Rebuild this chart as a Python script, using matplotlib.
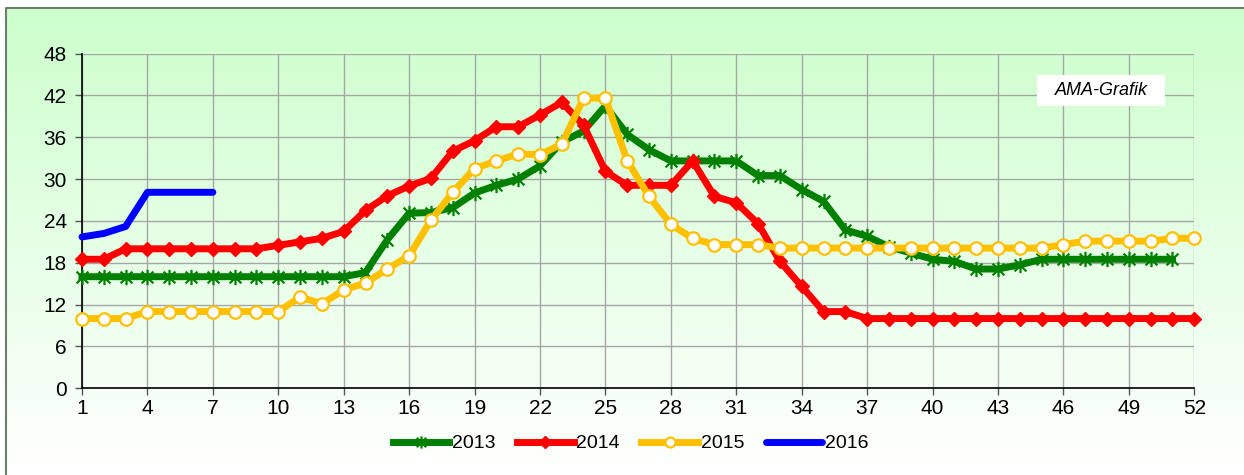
import numpy as np
import matplotlib
matplotlib.use("Agg")
import matplotlib.pyplot as plt
from matplotlib.path import Path
from matplotlib.patches import Rectangle

plt.rcParams['font.family'] = ['Liberation Sans', 'DejaVu Sans']

# ---- data ----
weeks = list(range(1, 53))
y2013 = [16, 16, 16, 16, 16, 16, 16, 16, 16, 16, 16, 16, 16, 16.6, 21.3, 25.1,
         25.2, 25.9, 28.0, 29.1, 30.0, 31.9, 35.3, 36.9, 40.5, 36.4, 34.2, 32.6,
         32.6, 32.6, 32.6, 30.5, 30.5, 28.5, 26.8, 22.7, 21.8, 20.3, 19.4, 18.5,
         18.2, 17.1, 17.1, 17.7, 18.5, 18.5, 18.5, 18.5, 18.5, 18.5, 18.5]
y2014 = [18.5, 18.5, 20, 20, 20, 20, 20, 20, 20, 20.5, 21, 21.5, 22.5, 25.5,
         27.6, 29.0, 30.1, 34.0, 35.5, 37.5, 37.5, 39.2, 41.0, 37.7, 31.1, 29.1,
         29.1, 29.1, 32.6, 27.5, 26.6, 23.6, 18.2, 14.6, 11.0, 11.0, 10, 10, 10,
         10, 10, 10, 10, 10, 10, 10, 10, 10, 10, 10, 10, 10]
y2015 = [10, 10, 10, 11, 11, 11, 11, 11, 11, 11, 13.1, 12.1, 14.1, 15.1, 17.1,
         19.0, 24.1, 28.1, 31.5, 32.6, 33.6, 33.5, 35.0, 41.6, 41.6, 32.6, 27.5,
         23.5, 21.5, 20.6, 20.6, 20.6, 20.1, 20.1, 20.1, 20.1, 20.1, 20.1, 20.1,
         20.1, 20.1, 20.1, 20.1, 20.1, 20.1, 20.6, 21.1, 21.1, 21.1, 21.1, 21.5, 21.5]
y2016 = [21.7, 22.2, 23.2, 28.1, 28.1, 28.1, 28.1]
series_labels = ['2013', '2014', '2015', '2016']
xticks = list(range(1, 53, 3))
yticks = list(range(0, 49, 6))
annotation = 'AMA-Grafik'

W, H = 1244, 475
fig = plt.figure(figsize=(W / 100, H / 100), dpi=100)

# background gradient with frame
bg = fig.add_axes([0, 0, 1, 1], zorder=-10)
bg.set_xlim(0, W)
bg.set_ylim(H, 0)
bg.axis('off')
top = np.array([0xcc, 0xff, 0xcc]) / 255
bot = np.array([1.0, 1.0, 1.0])
t = np.linspace(0, 1, 256)[:, None]
grad = top[None, :] * (1 - t) + bot[None, :] * t
bg.imshow(grad[:, None, :], extent=[5.5, W, H, 7.5], aspect='auto',
          interpolation='bilinear')
bg.plot([5.5, 5.5, W], [H, 7.5, 7.5], color='#6e7e6e', lw=1.5,
        solid_capstyle='butt')

# main axes
x0, x1 = 82, 1194.3
y0, y1 = 388.3, 53.5
ax = fig.add_axes([x0 / W, 1 - y0 / H, (x1 - x0) / W, (y0 - y1) / H])
ax.patch.set_alpha(0)
ax.set_xlim(1, 52)
ax.set_ylim(0, 48)
ax.set_xticks(xticks)
ax.set_yticks(yticks)
ax.grid(True, color='#a6a6a6', lw=1.0)
ax.set_axisbelow(True)
for s in ['top', 'right']:
    ax.spines[s].set_visible(False)
for s in ['left', 'bottom']:
    ax.spines[s].set_color('black')
    ax.spines[s].set_linewidth(1.2)
ax.tick_params(axis='both', direction='out', length=5, width=1,
               color='#555555', labelsize=15, labelcolor='black')
ax.tick_params(axis='x', pad=3)
ax.tick_params(axis='y', pad=6)

# star marker (X plus vertical)
star = Path([(-1, -1), (1, 1), (-1, 1), (1, -1), (0, -1.3), (0, 1.3)],
            [Path.MOVETO, Path.LINETO, Path.MOVETO, Path.LINETO,
             Path.MOVETO, Path.LINETO])

lw = 5
ax.plot(weeks[:len(y2013)], y2013, color='#008000', lw=lw, marker=star,
        ms=11, mew=1.6, mec='#008000', label=series_labels[0], zorder=3,
        clip_on=False)
ax.plot(weeks, y2014, color='#ff0000', lw=lw, marker='D', ms=7.5,
        mec='#ff0000', mfc='#ff0000', label=series_labels[1], zorder=4,
        clip_on=False)
ax.plot(weeks, y2015, color='#ffc000', lw=lw, marker='o', ms=9, mew=1.6,
        mec='#ffc000', mfc='white', label=series_labels[2], zorder=5,
        clip_on=False)
ax.plot(weeks[:len(y2016)], y2016, color='#0000ff', lw=lw,
        solid_capstyle='round', label=series_labels[3], zorder=6,
        clip_on=False)

# annotation box
bx0, bx1, by0, by1 = 1037, 1165, 75, 106
fig.patches.append(Rectangle((bx0 / W, 1 - by1 / H), (bx1 - bx0) / W,
                             (by1 - by0) / H, transform=fig.transFigure,
                             fc='white', ec='none', zorder=9))
fig.text((bx0 + bx1) / 2 / W, 1 - (by0 + by1) / 2 / H, annotation,
         fontsize=13, style='italic', ha='center', va='center', zorder=10)

# legend
handles, labels = ax.get_legend_handles_labels()
leg = fig.legend(handles, labels, loc='center', bbox_to_anchor=(0.507, 0.066),
                 ncol=4, frameon=False, fontsize=14, handlelength=2.9,
                 handletextpad=0.15, columnspacing=1.1, markerscale=0.8)

fig.savefig('out.png', dpi=100)
